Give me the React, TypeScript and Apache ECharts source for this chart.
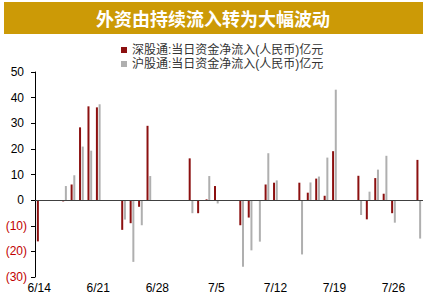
import React, { useEffect, useRef } from "react";
import * as echarts from "echarts";

const titleText = "外资由持续流入转为大幅波动";
const seriesNames = ["深股通:当日资金净流入(人民币)亿元", "沪股通:当日资金净流入(人民币)亿元"];

const categories = [
  "6/14", "6/15", "6/16", "6/17", "6/18", "6/19", "6/20", "6/21", "6/22", "6/23",
  "6/24", "6/25", "6/26", "6/27", "6/28", "6/29", "6/30", "7/1", "7/2", "7/3",
  "7/4", "7/5", "7/6", "7/7", "7/8", "7/9", "7/10", "7/11", "7/12", "7/13",
  "7/14", "7/15", "7/16", "7/17", "7/18", "7/19", "7/20", "7/21", "7/22", "7/23",
  "7/24", "7/25", "7/26", "7/27", "7/28", "7/29",
];

const szValues = [
  -16.1, null, null, -0.5, 6.1, 28.4, 36.6, 36.2, null, null,
  -11.6, -9.0, -2.6, 29.0, null, null, null, null, 16.3, -5.1,
  0.3, 5.5, null, null, -9.8, -6.8, null, 6.1, 6.8, null,
  null, 6.8, 2.9, 8.4, 1.7, 19.1, null, null, 9.5, -7.5,
  8.6, 2.5, -5.1, null, null, 15.7,
];

const shValues = [
  null, null, null, 5.5, 9.7, 20.9, 19.3, 37.4, null, null,
  -7.6, -24.1, -9.8, 9.4, null, null, null, null, -5.1, null,
  9.4, -1.3, null, null, -26.0, -19.6, -16.2, 18.3, 7.7, null,
  null, -21.2, 6.9, 9.2, 16.6, 43.1, null, null, -5.8, 3.3,
  11.9, 17.3, -8.8, null, null, -15.0,
];

const yMin = -30;
const yMax = 50;
const yInterval = 10;

export default function App() {
  const ref = useRef<HTMLDivElement>(null);
  useEffect(() => {
    if (!ref.current) return;
    const chart = echarts.init(ref.current, undefined, { renderer: "svg" });
    const legendBase = {
      orient: "vertical",
      left: 121,
      padding: 0,
      itemWidth: 6,
      itemHeight: 6,
      itemGap: 0,
      icon: "rect",
      textStyle: {
        color: "#333333",
        fontSize: 12,
        lineHeight: 14,
        fontFamily: "'Liberation Sans', 'Noto Sans CJK SC'",
      },
    };
    chart.setOption({
      animation: false,
      backgroundColor: "#ffffff",
      graphic: [
        {
          type: "rect",
          shape: { x: 4, y: 2, width: 419, height: 32 },
          style: { fill: "#CC9A06" },
        },
        {
          type: "text",
          x: 213,
          y: 18,
          style: {
            text: titleText,
            fill: "#ffffff",
            font: "bold 18px 'Noto Sans CJK SC'",
            align: "center",
            verticalAlign: "middle",
          },
        },
      ],
      legend: [
        { ...legendBase, top: 43, data: [seriesNames[0]] },
        { ...legendBase, top: 57, data: [seriesNames[1]] },
      ],
      grid: { left: 35, right: 13, top: 72, bottom: 21 },
      xAxis: {
        type: "category",
        data: categories,
        axisLine: { show: false },
        axisTick: { show: false },
        axisLabel: {
          interval: 6,
          color: "#000000",
          fontSize: 12,
          fontFamily: "Arial, 'Liberation Sans'",
          margin: 5,
        },
      },
      yAxis: {
        type: "value",
        min: yMin,
        max: yMax,
        interval: yInterval,
        axisLine: { show: true, lineStyle: { color: "#000000", width: 1 } },
        axisTick: { show: true, length: 4, lineStyle: { color: "#000000" } },
        splitLine: { show: false },
        axisLabel: {
          margin: 8,
          fontSize: 12,
          fontFamily: "Arial, 'Liberation Sans'",
          formatter: (v: number) => (v < 0 ? `{n|(${-v})}` : `{p|${v}}`),
          rich: {
            n: { color: "#C00000", fontSize: 12, fontFamily: "Arial, 'Liberation Sans'" },
            p: { color: "#000000", fontSize: 12, fontFamily: "Arial, 'Liberation Sans'", padding: [0, 3, 0, 0] },
          },
        },
      },
      series: [
        {
          name: seriesNames[0],
          type: "bar",
          data: szValues,
          barWidth: 2,
          barGap: "35%",
          itemStyle: { color: "#8C1010" },
          markLine: {
            silent: true,
            symbol: "none",
            label: { show: false },
            lineStyle: { color: "#404040", width: 1, type: "solid" },
            data: [{ yAxis: 0 }],
          },
        },
        {
          name: seriesNames[1],
          type: "bar",
          data: shValues,
          barWidth: 2,
          barGap: "35%",
          itemStyle: { color: "#AFAFAF" },
        },
      ],
    });
    return () => chart.dispose();
  }, []);
  return <div ref={ref} style={{ width: 436, height: 298, position: "fixed", left: 0, top: 0 }} />;
}
